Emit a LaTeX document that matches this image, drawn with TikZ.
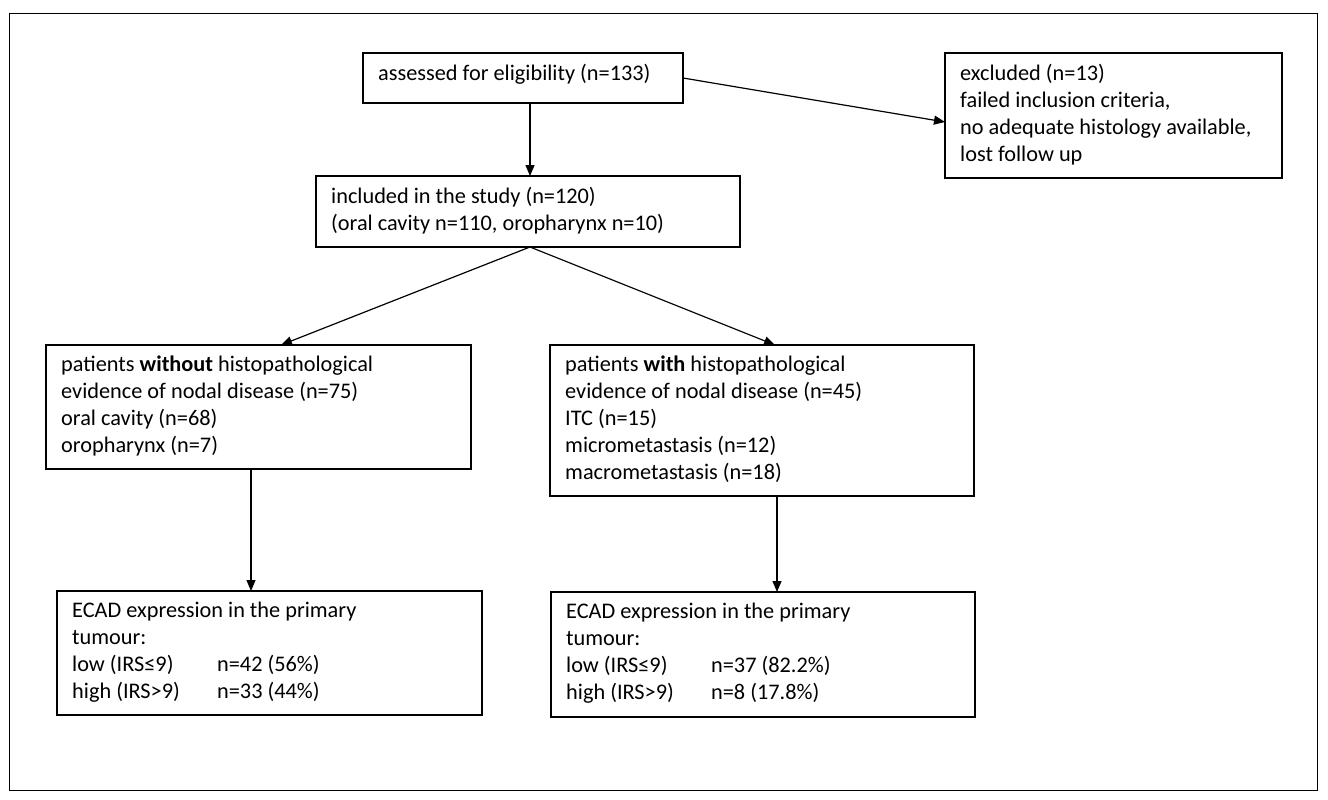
\documentclass[tikz,border=0pt]{standalone}
\usepackage{fontspec}
\setmainfont{Carlito}
\usetikzlibrary{arrows.meta}
\begin{document}
\begin{tikzpicture}[x=1pt,y=-1pt,
  tx/.style={anchor=north west,align=left,inner xsep=15pt,inner ysep=0pt,font=\fontsize{22.3}{27}\selectfont},
  bd/.style={line width=1.1pt},
  ar/.style={-{Triangle[length=11pt,width=9pt]},line width=1.2pt}]
\newcommand{\lbl}[1]{\makebox[145pt][l]{#1}}
\useasboundingbox (0,0) rectangle (1328,800);
\draw[line width=0.8pt] (9,13) rectangle (1317,790);
\draw[bd] (363,53) rectangle (683,103);
\node[tx] (a) at (363,64) {assessed for eligibility (n=133)};
\coordinate (aS) at (530,103); \coordinate (aE) at (683,78);
\draw[bd] (945,53) rectangle (1282,178);
\node[tx] (ex) at (945,64) {excluded (n=13)\\failed inclusion criteria,\\no adequate histology available,\\lost follow up};
\coordinate (exW) at (945,122);
\draw[bd] (316,176) rectangle (740,247);
\node[tx] (b) at (316,187) {included in the study (n=120)\\(oral cavity n=110, oropharynx n=10)};
\coordinate (bS) at (530,247);
\draw[bd] (46,345) rectangle (471,469);
\node[tx] (c) at (46,356) {patients \textbf{without} histopathological\\evidence of nodal disease (n=75)\\oral cavity (n=68)\\oropharynx (n=7)};
\draw[bd] (550,345) rectangle (974,496);
\node[tx] (d) at (550,356) {patients \textbf{with} histopathological\\evidence of nodal disease (n=45)\\ITC (n=15)\\micrometastasis (n=12)\\macrometastasis (n=18)};
\draw[bd] (57,591) rectangle (482,715);
\node[tx] (e) at (57,602) {ECAD expression in the primary\\tumour:\\\lbl{low (IRS≤9)}n=42 (56\%)\\\lbl{high (IRS>9)}n=33 (44\%)};
\draw[bd] (551,592) rectangle (975,717);
\node[tx] (f) at (551,603) {ECAD expression in the primary\\tumour:\\\lbl{low (IRS≤9)}n=37 (82.2\%)\\\lbl{high (IRS>9)}n=8 (17.8\%)};
\draw[ar] (aS) -- (530,176);
\draw[ar] (aE) -- (exW);
\draw[ar] (bS) -- (281,345);
\draw[ar] (bS) -- (775,345);
\draw[ar] (251,469) -- (251,591);
\draw[ar] (777,496) -- (777,592);
\end{tikzpicture}
\end{document}
